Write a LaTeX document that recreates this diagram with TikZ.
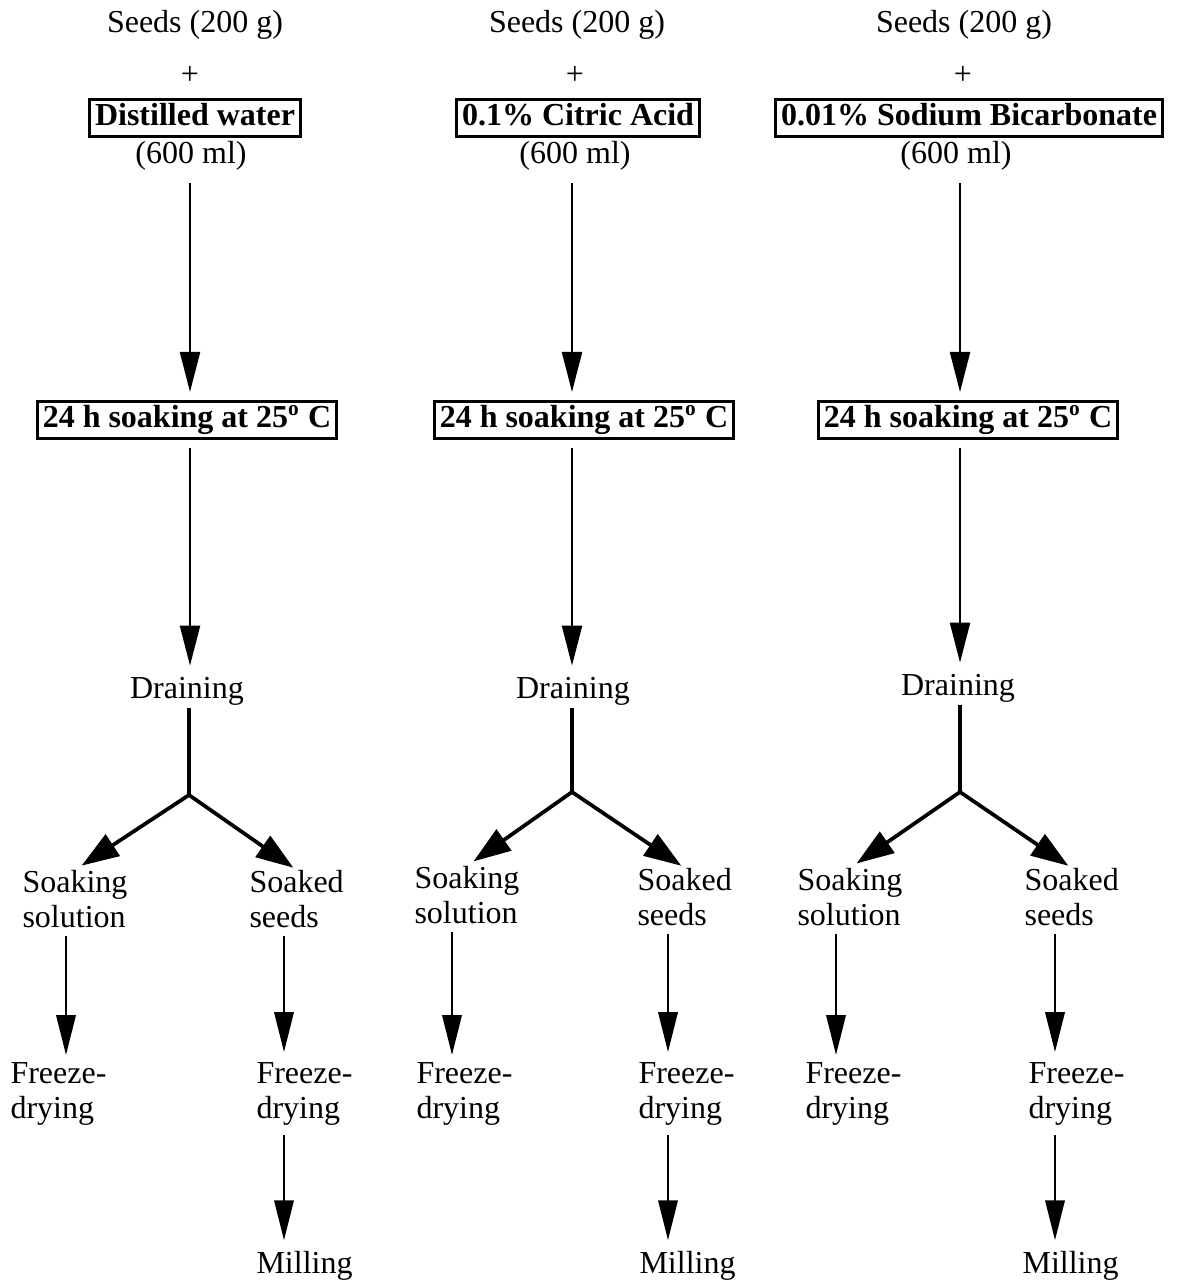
\documentclass[tikz,border=0pt]{standalone}
\usepackage{fontspec}
\setmainfont{Liberation Serif}
\usetikzlibrary{arrows.meta}

\tikzset{
    lbl/.style={inner sep=0pt,align=left,font=\fontsize{12}{13}\selectfont},
    tagbox/.style={draw,line width=1pt,inner xsep=2pt,inner ysep=1.6pt,
        text height=8.2pt,text depth=2.6pt,font=\fontsize{12}{13}\selectfont\bfseries},
    flowA/.style={line width=0.8pt,-{Triangle[length=15pt,width=7.5pt]}},
    flowB/.style={line width=1.1pt,-{Triangle[length=15pt,width=7.2pt]}},
    forkarrow/.style={line width=1.4pt,-{Triangle[length=14pt,width=9.5pt]}},
    stemline/.style={line width=1.6pt},
}

\begin{document}
\begin{tikzpicture}[x=0.375pt,y=0.375pt]

    \useasboundingbox (0,0) rectangle (1178,-1282);

    % COLUMN 1
    \begin{scope}[shift={(190,0)}]
        \coordinate (axA) at (0,0);
        \coordinate (lA) at (-124,0);
        \coordinate (rA) at (94,0);
        \node[lbl,anchor=base] (seedsA) at (5,-33) {Seeds (200 g)};
        \node[lbl] (plusA) at (0,-75) {+};
        \node[tagbox] (solvA) at (5,-118) {Distilled water};
        \node[lbl,anchor=base] (mlA) at (1,-164) {(600 ml)};
        \node[tagbox] (soakA) at (-3,-420) {24 h soaking at 25\textsuperscript{o} C};
        \node[lbl,anchor=base] (drainA) at (-3,-698) {Draining};
        \coordinate (jA) at (-1,-795);
        \node[lbl,anchor=north west] (solnA) at (-168,-870) {Soaking\\solution};
        \node[lbl,anchor=north west] (seedA) at (59,-870) {Soaked\\seeds};
        \node[lbl,anchor=north west] (fdlA) at (-180,-1062) {Freeze-\\drying};
        \node[lbl,anchor=north west] (fdrA) at (66,-1062) {Freeze-\\drying};
        \node[lbl,anchor=north west] (millA) at (66,-1251) {Milling};
        \draw[flowA,shorten <=4.5pt,shorten >=3pt] (mlA.south -| axA) -- (soakA.north -| axA);
        \draw[flowA,shorten <=3pt,shorten >=4pt] (soakA.south -| axA) -- (drainA.north -| axA);
        \draw[stemline,shorten <=1pt] (drainA.south -| jA) -- (jA);
        \draw[forkarrow,shorten >=3pt] (jA) -- (solnA.north);
        \draw[forkarrow,shorten >=1.5pt] (jA) -- (seedA.north);
        \draw[flowB,shorten <=3pt,shorten >=2.6pt] (solnA.south -| lA) -- (fdlA.north -| lA);
        \draw[flowB,shorten <=3pt,shorten >=3.7pt] (seedA.south -| rA) -- (fdrA.north -| rA);
        \draw[flowB,shorten <=3.4pt,shorten >=4pt] (fdrA.south -| rA) -- (millA.north -| rA);
    \end{scope}

    % COLUMN 2
    \begin{scope}[shift={(572,0)}]
        \coordinate (axB) at (0,0);
        \coordinate (lB) at (-120,0);
        \coordinate (rB) at (96,0);
        \node[lbl,anchor=base] (seedsB) at (5,-33) {Seeds (200 g)};
        \node[lbl] (plusB) at (3,-75) {+};
        \node[tagbox] (solvB) at (6,-118) {0.1\% Citric Acid};
        \node[lbl,anchor=base] (mlB) at (3,-164) {(600 ml)};
        \node[tagbox] (soakB) at (12,-420) {24 h soaking at 25\textsuperscript{o} C};
        \node[lbl,anchor=base] (drainB) at (1,-698) {Draining};
        \coordinate (jB) at (0,-792);
        \node[lbl,anchor=north west] (solnB) at (-158,-866) {Soaking\\solution};
        \node[lbl,anchor=north west] (seedB) at (65,-868) {Soaked\\seeds};
        \node[lbl,anchor=north west] (fdlB) at (-156,-1062) {Freeze-\\drying};
        \node[lbl,anchor=north west] (fdrB) at (66,-1062) {Freeze-\\drying};
        \node[lbl,anchor=north west] (millB) at (67,-1251) {Milling};
        \draw[flowA,shorten <=4.5pt,shorten >=3pt] (mlB.south -| axB) -- (soakB.north -| axB);
        \draw[flowA,shorten <=3pt,shorten >=4pt] (soakB.south -| axB) -- (drainB.north -| axB);
        \draw[stemline,shorten <=1pt] (drainB.south -| jB) -- (jB);
        \draw[forkarrow,shorten >=3pt] (jB) -- (solnB.north);
        \draw[forkarrow,shorten >=1.5pt] (jB) -- (seedB.north);
        \draw[flowB,shorten <=3pt,shorten >=2.6pt] (solnB.south -| lB) -- (fdlB.north -| lB);
        \draw[flowB,shorten <=3pt,shorten >=3.7pt] (seedB.south -| rB) -- (fdrB.north -| rB);
        \draw[flowB,shorten <=3.4pt,shorten >=4pt] (fdrB.south -| rB) -- (millB.north -| rB);
    \end{scope}

    % COLUMN 3
    \begin{scope}[shift={(960,0)}]
        \coordinate (axC) at (0,0);
        \coordinate (lC) at (-124,0);
        \coordinate (rC) at (95,0);
        \node[lbl,anchor=base] (seedsC) at (4,-33) {Seeds (200 g)};
        \node[lbl] (plusC) at (3,-75) {+};
        \node[tagbox] (solvC) at (9,-118) {0.01\% Sodium Bicarbonate};
        \node[lbl,anchor=base] (mlC) at (-4,-164) {(600 ml)};
        \node[tagbox] (soakC) at (8,-420) {24 h soaking at 25\textsuperscript{o} C};
        \node[lbl,anchor=base] (drainC) at (-2,-695) {Draining};
        \coordinate (jC) at (0,-792);
        \node[lbl,anchor=north west] (solnC) at (-163,-868) {Soaking\\solution};
        \node[lbl,anchor=north west] (seedC) at (64,-868) {Soaked\\seeds};
        \node[lbl,anchor=north west] (fdlC) at (-155,-1062) {Freeze-\\drying};
        \node[lbl,anchor=north west] (fdrC) at (68,-1062) {Freeze-\\drying};
        \node[lbl,anchor=north west] (millC) at (62,-1251) {Milling};
        \draw[flowA,shorten <=4.5pt,shorten >=3pt] (mlC.south -| axC) -- (soakC.north -| axC);
        \draw[flowA,shorten <=3pt,shorten >=4pt] (soakC.south -| axC) -- (drainC.north -| axC);
        \draw[stemline,shorten <=1pt] (drainC.south -| jC) -- (jC);
        \draw[forkarrow,shorten >=3pt] (jC) -- (solnC.north);
        \draw[forkarrow,shorten >=1.5pt] (jC) -- (seedC.north);
        \draw[flowB,shorten <=3pt,shorten >=2.6pt] (solnC.south -| lC) -- (fdlC.north -| lC);
        \draw[flowB,shorten <=3pt,shorten >=3.7pt] (seedC.south -| rC) -- (fdrC.north -| rC);
        \draw[flowB,shorten <=3.4pt,shorten >=4pt] (fdrC.south -| rC) -- (millC.north -| rC);
    \end{scope}

\end{tikzpicture}
\end{document}
